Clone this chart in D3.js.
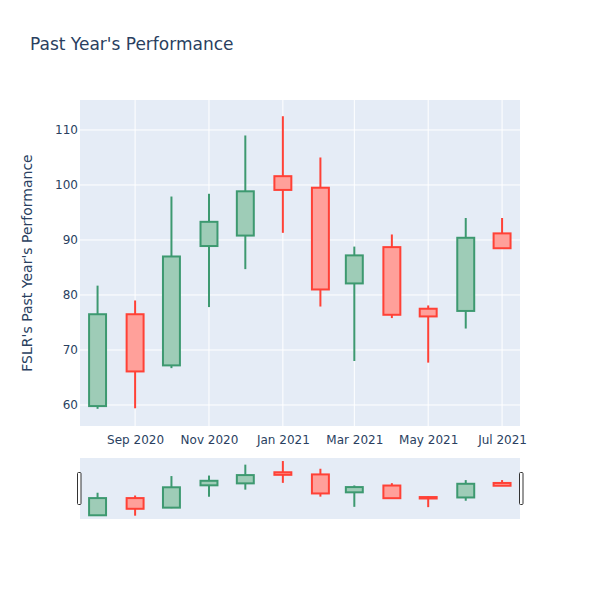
<!DOCTYPE html>
<html>
<head>
<meta charset="utf-8">
<script src="https://cdn.jsdelivr.net/npm/d3@7"></script>
<style>
  body { margin: 0; background: #fff; }
  text { font-family: "DejaVu Sans", sans-serif; fill: #2a3f5f; }
</style>
</head>
<body>
<div id="chart"></div>
<script>
const months = ["2020-08-01", "2020-09-01", "2020-10-01", "2020-11-01", "2020-12-01", "2021-01-01",
                "2021-02-01", "2021-03-01", "2021-04-01", "2021-05-01", "2021-06-01", "2021-07-01"];
const openVals  = [59.8, 76.5, 67.2, 88.9, 90.8, 101.6, 99.5, 82.1, 88.7, 77.5, 77.1, 91.2];
const highVals  = [81.7, 79.0, 97.9, 98.4, 109.0, 112.5, 105.0, 88.8, 91.0, 78.1, 94.0, 94.0];
const lowVals   = [59.3, 59.4, 66.7, 77.8, 84.7, 91.3, 77.9, 68.0, 75.8, 67.7, 73.9, 88.5];
const closeVals = [76.5, 66.1, 87.0, 93.3, 98.85, 99.1, 81.0, 87.2, 76.4, 76.1, 90.4, 88.5];
const yTicks = [60, 70, 80, 90, 100, 110];

const parse = d3.utcParse("%Y-%m-%d");
const data = months.map((m, i) => ({
    date: parse(m), open: openVals[i], high: highVals[i], low: lowVals[i], close: closeVals[i]
}));

const W = 600, H = 600;
const plot = {left: 80, right: 520, top: 100, bottom: 426};
const slider = {top: 458, bottom: 519};

const day = 86400000;
const x = d3.scaleUtc()
    .domain([new Date(parse("2020-08-01").getTime() - 14.5 * day), new Date(parse("2021-07-01").getTime() + 14.8 * day)])
    .range([plot.left, plot.right]);
const y = d3.scaleLinear().domain([56.18, 115.45]).range([plot.bottom, plot.top]);
const ys = d3.scaleLinear().domain([56.18, 115.45]).range([slider.bottom, slider.top]);

const incColor = "#3D9970", decColor = "#FF4136";
const halfDays = 7;

const svg = d3.select("#chart").append("svg").attr("width", W).attr("height", H);

svg.append("rect").attr("x", plot.left).attr("y", plot.top)
    .attr("width", plot.right - plot.left).attr("height", plot.bottom - plot.top)
    .attr("fill", "#E5ECF6");

const xTicks = [parse("2020-09-01"), parse("2020-11-01"), parse("2021-01-01"),
                parse("2021-03-01"), parse("2021-05-01"), parse("2021-07-01")];

// grid
svg.append("g").selectAll("line").data(xTicks).enter().append("line")
    .attr("x1", d => x(d)).attr("x2", d => x(d))
    .attr("y1", plot.top).attr("y2", plot.bottom)
    .attr("stroke", "#fff").attr("stroke-width", 1);
svg.append("g").selectAll("line").data(yTicks).enter().append("line")
    .attr("x1", plot.left).attr("x2", plot.right)
    .attr("y1", d => y(d)).attr("y2", d => y(d))
    .attr("stroke", "#fff").attr("stroke-width", 1);

function drawCandles(g, yScale, lw) {
    const c = g.selectAll("g.candle").data(data).enter().append("g").attr("class", "candle");
    const col = d => d.close >= d.open ? incColor : decColor;
    const bx0 = d => x(new Date(d.date.getTime() - halfDays * day));
    const bx1 = d => x(new Date(d.date.getTime() + halfDays * day));
    c.append("line")
        .attr("x1", d => x(d.date)).attr("x2", d => x(d.date))
        .attr("y1", d => yScale(d.high)).attr("y2", d => yScale(d.low))
        .attr("stroke", col).attr("stroke-width", lw);
    c.append("rect")
        .attr("x", bx0).attr("width", d => bx1(d) - bx0(d))
        .attr("y", d => yScale(Math.max(d.open, d.close)))
        .attr("height", d => Math.abs(yScale(d.open) - yScale(d.close)))
        .attr("fill", "#fff");
    c.append("rect")
        .attr("x", bx0).attr("width", d => bx1(d) - bx0(d))
        .attr("y", d => yScale(Math.max(d.open, d.close)))
        .attr("height", d => Math.abs(yScale(d.open) - yScale(d.close)))
        .attr("fill", col).attr("fill-opacity", 0.5)
        .attr("stroke", col).attr("stroke-width", lw);
}

drawCandles(svg.append("g"), y, 2);

// axes
const xAxis = svg.append("g").attr("transform", `translate(0,${plot.bottom})`)
    .call(d3.axisBottom(x).tickValues(xTicks).tickFormat(d3.utcFormat("%b %Y")).tickSize(0).tickPadding(9));
xAxis.select(".domain").remove();
xAxis.selectAll("text").attr("font-size", 12).attr("fill", "#2a3f5f");

const yAxis = svg.append("g").attr("transform", `translate(${plot.left},0)`)
    .call(d3.axisLeft(y).tickValues(yTicks).tickSize(0).tickPadding(2));
yAxis.select(".domain").remove();
yAxis.selectAll("text").attr("font-size", 12).attr("fill", "#2a3f5f");

svg.append("text")
    .attr("transform", `translate(32,${(plot.top + plot.bottom) / 2}) rotate(-90)`)
    .attr("text-anchor", "middle").attr("font-size", 14)
    .text("FSLR's Past Year's Performance");

svg.append("text").attr("x", 30).attr("y", 50).attr("font-size", 17)
    .text("Past Year's Performance");

// range slider
svg.append("rect").attr("x", plot.left).attr("y", slider.top)
    .attr("width", plot.right - plot.left).attr("height", slider.bottom - slider.top)
    .attr("fill", "#E5ECF6");
const sg = svg.append("g");
sg.append("clipPath").attr("id", "sclip").append("rect")
    .attr("x", plot.left).attr("y", slider.top)
    .attr("width", plot.right - plot.left).attr("height", slider.bottom - slider.top);
drawCandles(sg.append("g").attr("clip-path", "url(#sclip)"), ys, 2);

const handleH = 32;
const hy = (slider.top + slider.bottom) / 2 - handleH / 2;
[plot.left - 2, plot.right].forEach(hx => {
    svg.append("rect").attr("x", hx - 0.5).attr("y", hy)
        .attr("width", 3.5).attr("height", handleH)
        .attr("rx", 1)
        .attr("fill", "#fff").attr("stroke", "#333").attr("stroke-width", 1);
});
</script>
</body>
</html>
